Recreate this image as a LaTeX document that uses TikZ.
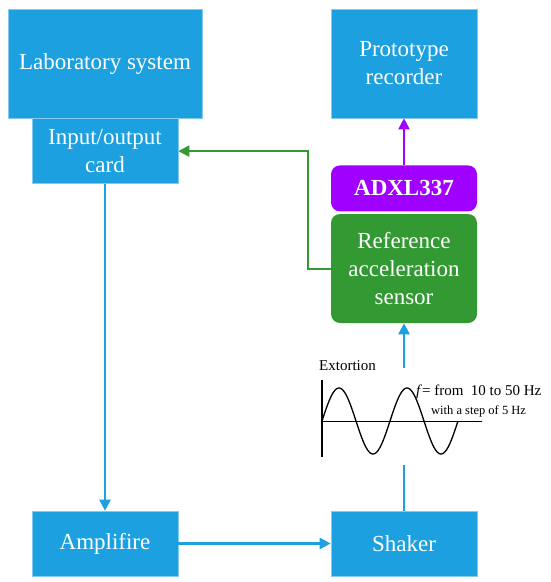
\documentclass[tikz,border=0pt]{standalone}
\usepackage{fontspec}
\setmainfont{Liberation Serif}
\usetikzlibrary{arrows.meta, positioning, calc}
\definecolor{blockblue}{HTML}{1CA0E0}
\definecolor{sensorgreen}{HTML}{339933}
\definecolor{chippurple}{HTML}{A000FF}

\begin{document}
\begin{tikzpicture}[
        x=1pt, y=-1pt,
        block/.style={rectangle, draw=blockblue!55, line width=0.6pt, fill=blockblue, text=white, align=center, inner sep=0pt, minimum width=146pt, font={\fontsize{23}{28}\selectfont}},
        roundblock/.style={block, draw=none, rounded corners=9pt},
        label/.style={anchor=west, inner sep=0pt},
        arrow/.style={line width=2.6pt, draw=blockblue, -{Triangle[length=11pt,width=11pt]}},
        greenarrow/.style={arrow, line width=2pt, draw=sensorgreen},
        purplearrow/.style={arrow, line width=2pt, draw=chippurple}
    ]
        \useasboundingbox (0,0) rectangle (550,582);

        % Blocks
        \node (lab) [block, minimum width=194pt, minimum height=109pt] at (105,63.5) {Laboratory system};
        \node (io) [block, minimum height=65pt, below=0pt of lab] {Input/output\\card};
        \node (proto) [block, minimum height=109pt] at (404,63.5) {Prototype\\recorder};
        \node (sensor) [roundblock, fill=sensorgreen, minimum height=109pt] at (404,268.5) {Reference\\acceleration\\sensor};
        \node (adxl) [roundblock, fill=chippurple, minimum height=46pt, above=2pt of sensor, font={\fontsize{23}{28}\selectfont\bfseries}] {ADXL337};
        \node (amp) [block, minimum height=65pt] at (105,543.5) {Amplifire};
        \node (shaker) [block, minimum height=65pt] at (404,543.5) {Shaker};

        % Extortion plot
        \node (plot) [rectangle, inner sep=0pt, minimum width=236pt, minimum height=97pt] at (430,416.5) {};
        \coordinate (origin) at (322,421);
        \draw [line width=1.3pt] (322,380) -- (322,457);
        \draw [line width=0.8pt] (origin) -- (482,421);
        \draw [line width=1.3pt, domain=0:136, samples=120, smooth] plot ({\x+322}, {421-33*sin(\x*5.2941)});
        \node (extlabel) [label, font={\fontsize{15}{18}\selectfont}] at (319,366) {Extortion};
        \node (freqlabel) [label, font={\fontsize{15}{18}\selectfont}] at (416,392) {\textit{f}= from\ \ 10 to 50 Hz};
        \node (steplabel) [label, font={\fontsize{12.5}{15}\selectfont}] at (431,411) {with a step of 5 Hz};

        % Flows
        \draw [arrow] (io.south) -- (amp.north);
        \draw [arrow] (amp.east) -- (shaker.west);
        \draw [arrow, -] (shaker.north) -- (shaker.north |- plot.south);
        \draw [arrow] (sensor.south |- plot.north) -- (sensor.south);
        \draw [purplearrow] (adxl.north) -- (proto.south);
        \draw [greenarrow] (sensor.west) -- ++(-23,0) |- (io.east);
    \end{tikzpicture}
\end{document}
